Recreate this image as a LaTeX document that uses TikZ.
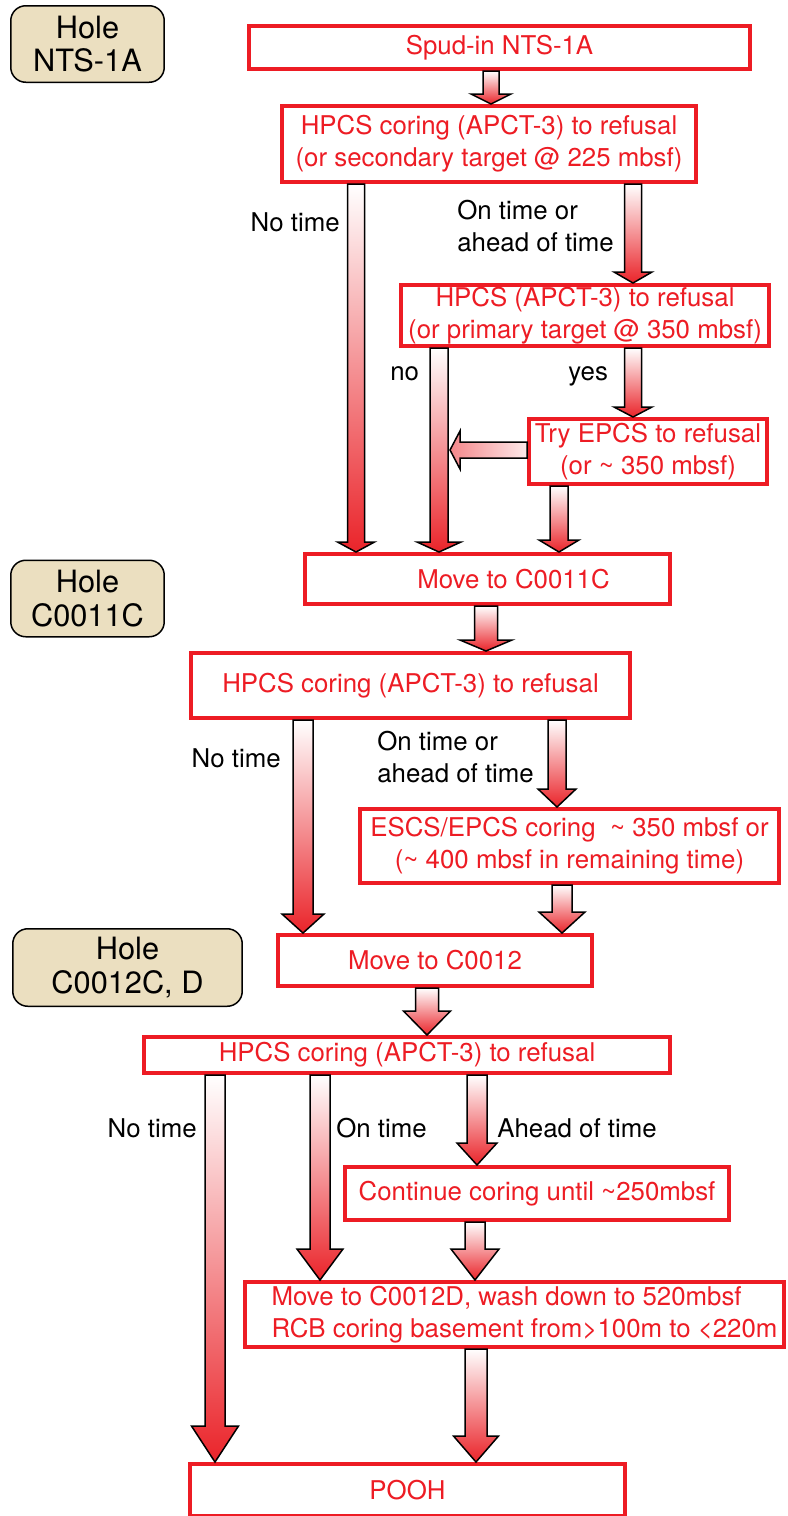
\documentclass[tikz,border=0pt]{standalone}
\usepackage{fontspec}
\setmainfont{TeX Gyre Heros}
\usepackage{tikz}
\usetikzlibrary{calc}
\definecolor{boxred}{RGB}{237,28,36}
\definecolor{arred}{RGB}{234,36,42}
\definecolor{parch}{RGB}{235,223,192}
\tikzstyle{redbox}=[draw=boxred,line width=0.08cm,text=boxred,inner sep=0pt,align=center,font=\fontsize{14.7}{18.2}\selectfont]
\tikzstyle{holebox}=[draw=black,line width=0.03cm,fill=parch,rounded corners=0.3cm,inner sep=0pt,align=center,font=\fontsize{17.5}{19}\selectfont]
\tikzstyle{lbl}=[inner sep=0pt,align=left,font=\fontsize{14.7}{18.2}\selectfont]
\tikzstyle{arrowline}=[draw=black,line width=0.03cm,line join=miter]

% #1 x, #2 from, #3 to, #4 shaft half width, #5 head half width, #6 head length
\newcommand{\blockdown}[6]{%
  \shadedraw[arrowline,top color=white,bottom color=arred] let \p1=(#2.south), \p2=(#3.north), \p3=(#1,0), \p4=(#4,#6), \p5=(#5,0) in
    (\x3-\x4,\y1) -- (\x3+\x4,\y1) -- (\x3+\x4,\y2-\y4) -- (\x3+\x5,\y2-\y4)
    -- (\x3,\y2) -- (\x3-\x5,\y2-\y4) -- (\x3-\x4,\y2-\y4) -- cycle;}
% #1 from, #2 tip, #3 shaft half width, #4 head half width, #5 head length
\newcommand{\blockleft}[5]{%
  \shadedraw[arrowline,left color=arred!55,right color=arred!10] let \p1=(#1.west), \p2=(#2), \p3=(#5,-#3), \p4=(0,-#4) in
    (\x1,\y2+\y3) -- (\x1,\y2-\y3) -- (\x2+\x3,\y2-\y3) -- (\x2+\x3,\y2-\y4)
    -- (\x2,\y2) -- (\x2+\x3,\y2+\y4) -- (\x2+\x3,\y2+\y3) -- cycle;}

\begin{document}
\begin{tikzpicture}[x=0.02cm,y=-0.02cm]
      \useasboundingbox (0,0) rectangle (788,1516);

      \node[holebox,minimum width=3.07cm,minimum height=1.53cm] (holeA) at (87.5,44) {Hole\\NTS-1A};
      \node[holebox,minimum width=3.07cm,minimum height=1.53cm] (holeB) at (87.5,598.5) {Hole\\C0011C};
      \node[holebox,minimum width=4.59cm,minimum height=1.55cm] (holeC) at (127.5,967.5) {Hole\\C0012C, D};

      \node[redbox,minimum width=10.02cm,minimum height=0.86cm] (spud) at (499.5,47.5) {Spud-in NTS-1A};
      \node[redbox,minimum width=8.28cm,minimum height=1.52cm] (hpcsA) at (489,144) {HPCS coring (APCT-3) to refusal\\ (or secondary target @ 225 mbsf)};
      \node[redbox,minimum width=7.36cm,minimum height=1.22cm] (hpcsB) at (585,315.5) {HPCS (APCT-3) to refusal\\(or primary target @ 350 mbsf)};
      \node[redbox,minimum width=4.76cm,minimum height=1.30cm] (epcs) at (648,451.5) {Try EPCS to refusal\\(or \textasciitilde{} 350 mbsf)};
      \node[redbox,minimum width=7.30cm,minimum height=1.00cm] (moveA) at (487.5,579) {\hspace*{1.04cm}Move to C0011C};
      \node[redbox,minimum width=8.78cm,minimum height=1.30cm] (hpcsC) at (410.5,685.5) {HPCS coring (APCT-3) to refusal};
      \node[redbox,minimum width=8.38cm,minimum height=1.48cm] (escs) at (569.5,846) {ESCS/EPCS coring\ \ \textasciitilde{} 350 mbsf or\\(\textasciitilde{} 400 mbsf in remaining time)};
      \node[redbox,minimum width=6.28cm,minimum height=1.02cm] (moveB) at (435,960.5) {Move to C0012};
      \node[redbox,minimum width=10.52cm,minimum height=0.72cm] (hpcsD) at (407,1055) {HPCS coring (APCT-3) to refusal};
      \node[redbox,minimum width=7.68cm,minimum height=1.06cm] (contin) at (537,1193.5) {Continue coring until \textasciitilde{}250mbsf};
      \node[redbox,align=left,minimum width=10.78cm,minimum height=1.30cm] (moveC) at (514.5,1314.5) {\hspace*{0.4cm}Move to C0012D, wash down to 520mbsf\\\hspace*{0.4cm}RCB coring basement from>100m to <220m};
      \node[redbox,minimum width=8.70cm,minimum height=1.04cm] (pooh) at (407.5,1490) {POOH};

      \node[lbl,anchor=north east] (notimeA) at (340,212) {No time};
      \node[lbl,anchor=north west] (ontimeA) at (457,200) {On time or\\ahead of time};
      \node[lbl,anchor=north west] (no) at (390,366) {no};
      \node[lbl,anchor=north west] (yes) at (568,366) {yes};
      \node[lbl,anchor=north east] (notimeB) at (281,748) {No time};
      \node[lbl,anchor=north west] (ontimeB) at (377,731) {On time or\\ahead of time};
      \node[lbl,anchor=north east] (notimeC) at (197,1118) {No time};
      \node[lbl,anchor=north west] (ontimeC) at (336,1118) {On time};
      \node[lbl,anchor=north west] (aheadC) at (497,1118) {Ahead of time};

      \coordinate (noshaft) at (450,450);

      \blockdown{491}{spud}{hpcsA}{8}{20}{10}
      \blockdown{356}{hpcsA}{moveA}{8.5}{18.5}{10}
      \blockdown{633}{hpcsA}{hpcsB}{8.5}{19}{11}
      \blockdown{439}{hpcsB}{moveA}{9}{22}{10}
      \blockdown{633}{hpcsB}{epcs}{8.5}{19}{10}
      \blockdown{559}{epcs}{moveA}{9}{20}{12}
      \blockleft{epcs}{noshaft}{8}{19}{10}

      \blockdown{486}{moveA}{hpcsC}{11.5}{26}{11}
      \blockdown{303}{hpcsC}{moveB}{10}{21}{19}
      \blockdown{557}{hpcsC}{escs}{9}{19}{18}
      \blockdown{562}{escs}{moveB}{10}{23}{21}

      \blockdown{427}{moveB}{hpcsD}{11.5}{23.5}{24}
      \blockdown{215}{hpcsD}{pooh}{10}{23.5}{36}
      \blockdown{320}{hpcsD}{moveC}{10}{23}{31}
      \blockdown{477}{hpcsD}{contin}{10}{20}{22}
      \blockdown{475}{contin}{moveC}{10}{24}{31}
      \blockdown{476}{moveC}{pooh}{11}{22.5}{26}

\end{tikzpicture}
\end{document}
